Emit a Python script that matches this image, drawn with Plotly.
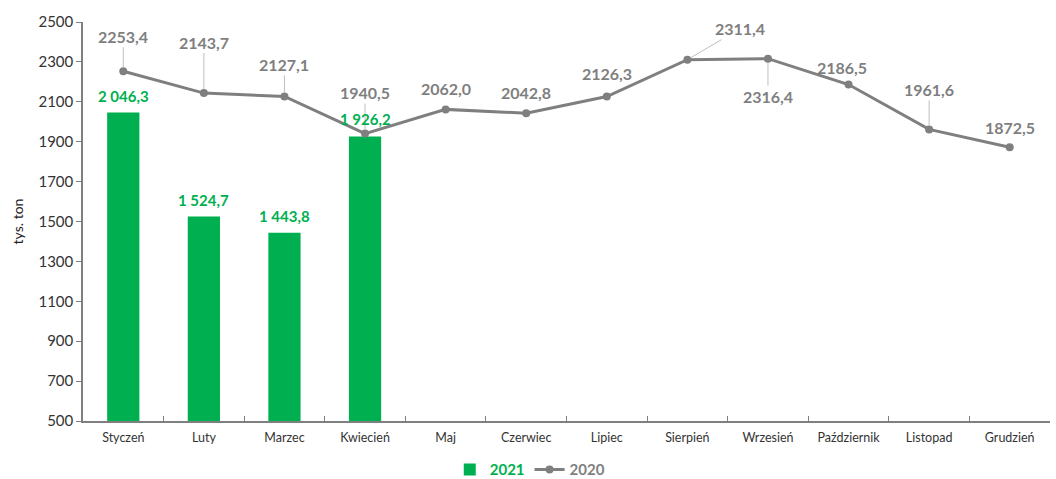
import plotly.graph_objects as go

months = ["Styczeń", "Luty", "Marzec", "Kwiecień", "Maj", "Czerwiec", "Lipiec",
          "Sierpień", "Wrzesień", "Październik", "Listopad", "Grudzień"]
values_2021 = [2046.3, 1524.7, 1443.8, 1926.2]
values_2020 = [2253.4, 2143.7, 2127.1, 1940.5, 2062.0, 2042.8, 2126.3,
               2311.4, 2316.4, 2186.5, 1961.6, 1872.5]
y_ticks = [500, 700, 900, 1100, 1300, 1500, 1700, 1900, 2100, 2300, 2500]

# label offsets (pixels) for 2020 labels: (ax, ay, leader line)
label_offsets_2020 = [(0, -35, True), (0, -51, True), (0, -32, True), (0, -41, True),
                      (0, -21, False), (0, -21, False), (0, -23, False),
                      (53, -31, True), (0, 38, True), (-7, -17, False),
                      (0, -40, True), (0, -20, False)]

GREEN = "#00B050"
GRAY = "#7F7F7F"
FONT = "Lato"

def fmt_pl_space(v):
    s = f"{v:,.1f}"
    return s.replace(",", " ").replace(".", ",")

def fmt_pl(v):
    return f"{v:.1f}".replace(".", ",")

fig = go.Figure()
fig.add_trace(go.Bar(
    x=months[:len(values_2021)], y=values_2021, name="<b><span style='color:#00B050'>2021</span></b>",
    marker=dict(color=GREEN, line=dict(width=0)), width=0.4,
))
fig.add_trace(go.Scatter(
    x=months, y=values_2020, mode="lines+markers",
    name="<b><span style='color:#7F7F7F'>2020</span></b>",
    line=dict(color=GRAY, width=3), marker=dict(color=GRAY, size=8),
))

annotations = []
for m, v, (ax, ay, lead) in zip(months, values_2020, label_offsets_2020):
    if lead:
        annotations.append(dict(x=m, y=v, xref="x", yref="y", text="<b>" + fmt_pl(v) + "</b>",
                                showarrow=True, arrowhead=0, arrowwidth=1,
                                arrowcolor="#BFBFBF", ax=ax, ay=ay, standoff=4,
                                font=dict(family=FONT, size=16, color=GRAY)))
    else:
        annotations.append(dict(x=m, y=v, xref="x", yref="y", text="<b>" + fmt_pl(v) + "</b>",
                                showarrow=False, xshift=ax, yshift=-ay,
                                font=dict(family=FONT, size=16, color=GRAY)))
for m, v in zip(months, values_2021):
    annotations.append(dict(x=m, y=v, xref="x", yref="y", text="<b>" + fmt_pl_space(v) + "</b>",
                            showarrow=False, yshift=17,
                            font=dict(family=FONT, size=15, color=GREEN)))

fig.update_layout(
    width=1056, height=479,
    margin=dict(l=83, r=6, t=22, b=58, autoexpand=False),
    plot_bgcolor="white", paper_bgcolor="white",
    font=dict(family=FONT, color="#333333"),
    annotations=annotations,
    showlegend=True,
    legend=dict(orientation="h", x=0.462, xanchor="center", y=-0.122, yanchor="middle",
                font=dict(family=FONT, size=15), itemwidth=30, tracegroupgap=0),
)
fig.update_xaxes(
    type="category", categoryorder="array", categoryarray=months,
    showline=True, linecolor="#7F7F7F", linewidth=1.5,
    ticks="inside", tickson="boundaries", ticklen=5, tickcolor="#7F7F7F",
    tickfont=dict(family=FONT, size=12.5, color="#333333"), showgrid=False,
    ticklabelstandoff=4,
    range=[-0.5, 11.5],
)
fig.update_yaxes(
    range=[500, 2500], tickvals=y_ticks, tickformat="d",
    showline=True, linecolor="#7F7F7F", linewidth=1.5,
    ticks="outside", ticklen=5, tickcolor="#7F7F7F",
    tickfont=dict(family=FONT, size=15, color="#333333"), showgrid=False,
    zeroline=False,
    title=dict(text="tys. ton", font=dict(family=FONT, size=14, color="#222222"), standoff=12),
)

fig.write_html("out.html")
